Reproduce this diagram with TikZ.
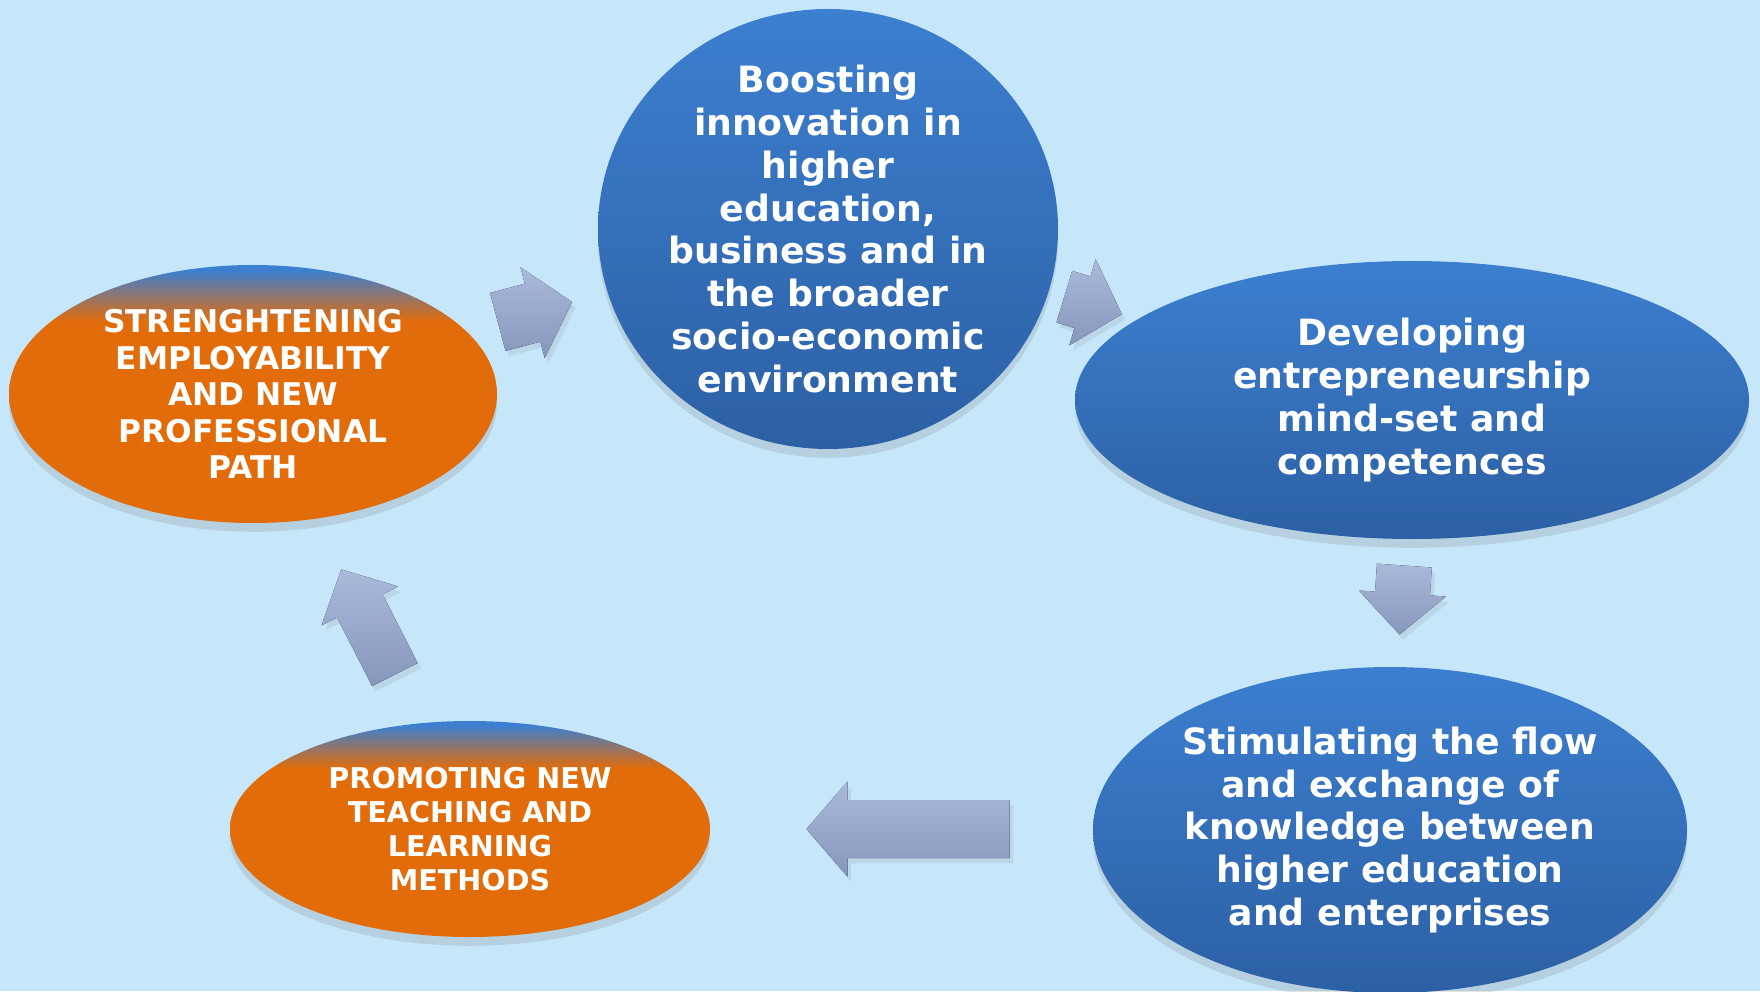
\documentclass[tikz,border=0pt]{standalone}
\usepackage{fontspec}
\setmainfont{DejaVu Sans}
\usetikzlibrary{shapes.geometric,shadows}

\definecolor{bgBlue}{RGB}{198,231,250}
\definecolor{goalTop}{RGB}{60,127,208}
\definecolor{goalBot}{RGB}{44,96,164}
\definecolor{skillOrange}{RGB}{227,108,10}
\definecolor{flowTop}{RGB}{170,186,219}
\definecolor{flowBot}{RGB}{134,151,188}

\pgfdeclareverticalshading{skillShade}{100bp}{color(0bp)=(skillOrange); color(64bp)=(skillOrange); color(74bp)=(goalTop); color(100bp)=(goalTop)}

\tikzset{
  goal/.style={ellipse, inner sep=0pt, align=center, text=white,
    font=\bfseries\fontsize{20.6}{24.4}\selectfont,
    top color=goalTop, bottom color=goalBot,
    drop shadow={opacity=.22, shadow xshift=0pt, shadow yshift=-5pt}},
  skill/.style={goal, shading=skillShade},
  flow/.style={top color=flowTop, bottom color=flowBot,
    drop shadow={opacity=.15, shadow xshift=2pt, shadow yshift=-3pt}}
}

\begin{document}
\begin{tikzpicture}
      % background, 1760 x 991 px at 0.02cm per px
      \fill[bgBlue] (0,0) rectangle (35.2,19.82);
      \useasboundingbox (0,0) rectangle (35.2,19.82);

      \node[goal, minimum width=9.2cm, minimum height=8.8cm, inner ysep=-0.4cm] (boost) at (16.56,15.24)
            {Boosting\\innovation in\\higher\\education,\\business and in\\the broader\\socio-economic\\environment};
      \node[goal, minimum width=13.48cm, minimum height=5.56cm] (mindset) at (28.24,11.82)
            {Developing\\entrepreneurship\\mind-set and\\competences};
      \node[goal, minimum width=11.88cm, minimum height=6.52cm] (knowflow) at (27.8,3.22)
            {Stimulating the flow\\and exchange of\\knowledge between\\higher education\\and enterprises};
      \node[skill, minimum width=9.6cm, minimum height=4.32cm,
            font=\bfseries\fontsize{16.3}{19.2}\selectfont] (teaching) at (9.4,3.24)
            {PROMOTING NEW\\TEACHING AND\\LEARNING\\METHODS};
      \node[skill, minimum width=9.76cm, minimum height=5.16cm, inner ysep=-0.1cm,
            font=\bfseries\fontsize{17.8}{20.8}\selectfont] (employ) at (5.06,11.94)
            {STRENGHTENING\\EMPLOYABILITY\\AND NEW\\PROFESSIONAL\\PATH};

      % block arrows of the cycle: centre / length / half head / half shaft / angle
      \def\headLen{0.82}
      \foreach \x/\y/\len/\h/\s/\rot in {
            10.70/13.58/1.54/0.94/0.60/15,
            21.86/13.71/1.20/0.90/0.54/-17,
            28.04/7.82/1.38/0.87/0.55/-94,
            18.16/3.24/4.06/0.95/0.58/180,
            7.36/7.38/2.36/0.86/0.51/117} {
                  \fill[flow, shift={(\x,\y)}, rotate=\rot]
                        (-\len/2,\s) -- (\len/2-\headLen,\s) -- (\len/2-\headLen,\h) -- (\len/2,0)
                        -- (\len/2-\headLen,-\h) -- (\len/2-\headLen,-\s) -- (-\len/2,-\s) -- cycle;
            }
\end{tikzpicture}
\end{document}
